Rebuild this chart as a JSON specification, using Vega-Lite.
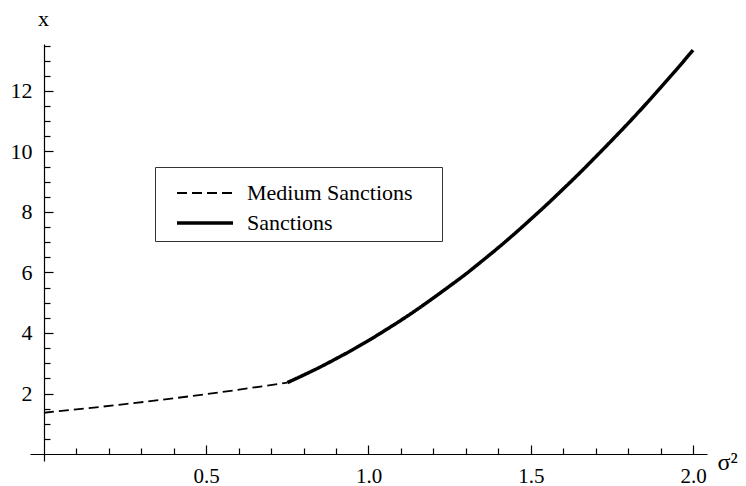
{
  "$schema": "https://vega.github.io/schema/vega-lite/v6.json",
  "width": 677,
  "height": 417,
  "autosize": {"type": "none"},
  "padding": {"left": 30, "top": 44, "right": 39, "bottom": 25},
  "background": "white",
  "config": {"view": {"stroke": null}, "font": "Liberation Serif"},
  "data": {
    "values": [
      {"sigma2": 0.0, "x": 1.365, "series": "Medium Sanctions"},
      {"sigma2": 0.25, "x": 1.65, "series": "Medium Sanctions"},
      {"sigma2": 0.5, "x": 1.98, "series": "Medium Sanctions"},
      {"sigma2": 0.75, "x": 2.36, "series": "Medium Sanctions"},
      {"sigma2": 0.75, "x": 2.36, "series": "Sanctions"},
      {"sigma2": 0.8, "x": 2.61, "series": "Sanctions"},
      {"sigma2": 0.85, "x": 2.87, "series": "Sanctions"},
      {"sigma2": 0.9, "x": 3.15, "series": "Sanctions"},
      {"sigma2": 0.95, "x": 3.44, "series": "Sanctions"},
      {"sigma2": 1.0, "x": 3.75, "series": "Sanctions"},
      {"sigma2": 1.05, "x": 4.08, "series": "Sanctions"},
      {"sigma2": 1.1, "x": 4.42, "series": "Sanctions"},
      {"sigma2": 1.15, "x": 4.78, "series": "Sanctions"},
      {"sigma2": 1.2, "x": 5.16, "series": "Sanctions"},
      {"sigma2": 1.25, "x": 5.55, "series": "Sanctions"},
      {"sigma2": 1.3, "x": 5.95, "series": "Sanctions"},
      {"sigma2": 1.35, "x": 6.38, "series": "Sanctions"},
      {"sigma2": 1.4, "x": 6.82, "series": "Sanctions"},
      {"sigma2": 1.45, "x": 7.28, "series": "Sanctions"},
      {"sigma2": 1.5, "x": 7.76, "series": "Sanctions"},
      {"sigma2": 1.55, "x": 8.25, "series": "Sanctions"},
      {"sigma2": 1.6, "x": 8.76, "series": "Sanctions"},
      {"sigma2": 1.65, "x": 9.28, "series": "Sanctions"},
      {"sigma2": 1.7, "x": 9.82, "series": "Sanctions"},
      {"sigma2": 1.75, "x": 10.37, "series": "Sanctions"},
      {"sigma2": 1.8, "x": 10.93, "series": "Sanctions"},
      {"sigma2": 1.85, "x": 11.51, "series": "Sanctions"},
      {"sigma2": 1.9, "x": 12.11, "series": "Sanctions"},
      {"sigma2": 1.95, "x": 12.72, "series": "Sanctions"},
      {"sigma2": 2.0, "x": 13.35, "series": "Sanctions"}
    ]
  },
  "mark": {"type": "line", "color": "black", "interpolate": "monotone"},
  "encoding": {
    "x": {
      "field": "sigma2",
      "type": "quantitative",
      "scale": {"domain": [-0.043, 2.043], "nice": false, "zero": false},
      "axis": {
        "orient": "bottom",
        "offset": -7,
        "grid": false,
        "values": [0.1, 0.2, 0.3, 0.4, 0.5, 0.6, 0.7, 0.8, 0.9, 1.0, 1.1, 1.2, 1.3, 1.4, 1.5, 1.6, 1.7, 1.8, 1.9, 2.0],
        "tickSize": {"condition": {"test": "abs(datum.value*2-round(datum.value*2))<0.001", "value": -9}, "value": -6},
        "labelExpr": "abs(datum.value*2-round(datum.value*2))<0.001 ? format(datum.value,'.1f') : ''",
        "labelPadding": 20,
        "labelFont": "Liberation Serif",
        "labelFontSize": 21,
        "labelColor": "black",
        "labelFlush": false,
        "labelOverlap": false,
        "domainColor": "black",
        "domainWidth": 1.2,
        "tickColor": "black",
        "tickWidth": 1.2,
        "title": "σ²",
        "titleX": 687,
        "titleY": 15,
        "titleAlign": "left",
        "titleBaseline": "alphabetic",
        "titleFont": "Liberation Serif",
        "titleFontSize": 24,
        "titleFontWeight": "normal",
        "titleColor": "black"
      }
    },
    "y": {
      "field": "x",
      "type": "quantitative",
      "scale": {"domain": [-0.23, 13.55], "nice": false, "zero": false},
      "axis": {
        "orient": "left",
        "offset": -14,
        "grid": false,
        "values": [0.5, 1, 1.5, 2, 2.5, 3, 3.5, 4, 4.5, 5, 5.5, 6, 6.5, 7, 7.5, 8, 8.5, 9, 9.5, 10, 10.5, 11, 11.5, 12, 12.5, 13, 13.5],
        "tickSize": {"condition": {"test": "datum.value % 2 === 0", "value": -9}, "value": -6},
        "labelExpr": "datum.value % 2 === 0 ? format(datum.value,'d') : ''",
        "labelPadding": 21,
        "labelFont": "Liberation Serif",
        "labelFontSize": 22,
        "labelColor": "black",
        "labelFlush": false,
        "labelOverlap": false,
        "domainColor": "black",
        "domainWidth": 1.2,
        "tickColor": "black",
        "tickWidth": 1.2,
        "title": "x",
        "titleX": -1,
        "titleY": -19,
        "titleAngle": 0,
        "titleAlign": "center",
        "titleBaseline": "alphabetic",
        "titleFont": "Liberation Serif",
        "titleFontSize": 22,
        "titleFontWeight": "normal",
        "titleColor": "black"
      }
    },
    "strokeDash": {
      "field": "series",
      "type": "nominal",
      "scale": {"domain": ["Medium Sanctions", "Sanctions"], "range": [[10, 5], [1, 0]]},
      "legend": {
        "orient": "none",
        "legendX": 125,
        "legendY": 123,
        "title": null,
        "padding": 7,
        "strokeColor": "#333",
        "fillColor": "white",
        "symbolType": "stroke",
        "symbolSize": 3136,
        "symbolStrokeColor": "black",
        "symbolOffset": 13,
        "clipHeight": 22,
        "labelOffset": 12,
        "labelFont": "Liberation Serif",
        "labelFontSize": 22,
        "labelColor": "black",
        "labelLimit": 400,
        "rowPadding": -3,
        "labelExpr": "datum.label + '\u00a0\u00a0\u00a0\u00a0\u200b'",
        "encode": {
          "labels": {"update": {"dy": {"value": 8}}},
          "symbols": {"update": {"y": {"value": 19}}}
        }
      }
    },
    "strokeWidth": {
      "field": "series",
      "type": "nominal",
      "scale": {"domain": ["Medium Sanctions", "Sanctions"], "range": [1.8, 3.5]}
    }
  }
}
